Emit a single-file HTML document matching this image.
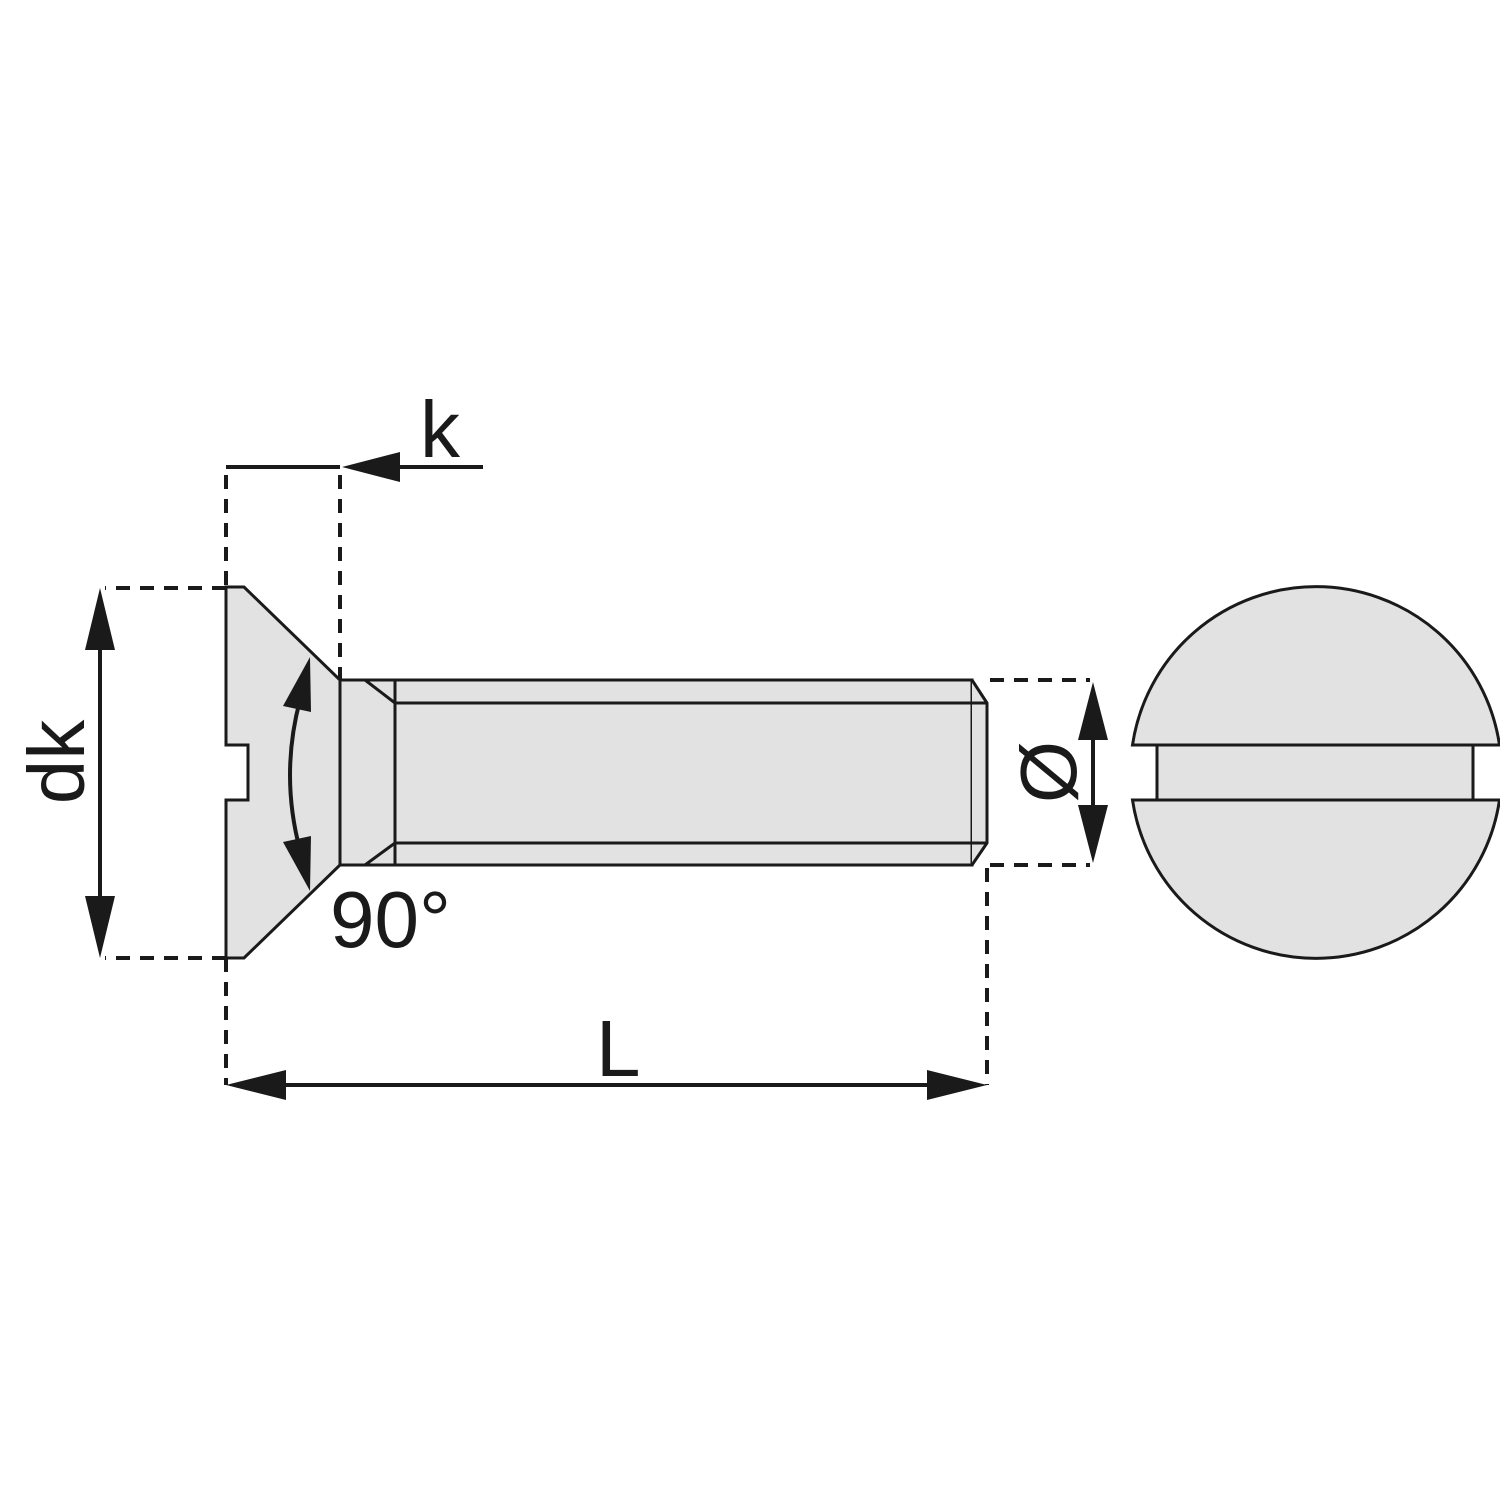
<!DOCTYPE html>
<html><head><style>body{margin:0;background:#fff}svg{display:block}</style></head><body>
<svg width="1500" height="1500" viewBox="0 0 1500 1500" xmlns="http://www.w3.org/2000/svg">
<g stroke="#1a1a1a" stroke-width="3" fill="#e2e2e2" stroke-linejoin="miter">
<path d="M226,587 L244,587 L340,680 L340,865 L244,958 L226,958 L226,800 L248,800 L248,745 L226,745 Z"/>
<rect x="340" y="680" width="632" height="185"/>
<path d="M972,680 L987,703 L987,843 L972,865" />
<line x1="395" y1="680" x2="395" y2="865"/>
<line x1="365" y1="680" x2="395" y2="703" fill="none"/>
<line x1="365" y1="865" x2="395" y2="843" fill="none"/>
<line x1="395" y1="703" x2="987" y2="703"/>
<line x1="395" y1="843" x2="987" y2="843"/>
<path d="M1132.5,745 A185.5,185.5 0 0 1 1499.5,745 Z"/>
<path d="M1132.5,800 A185.5,185.5 0 0 0 1499.5,800 Z"/>
<rect x="1157" y="745" width="316" height="55"/>
</g>
<g stroke="#1a1a1a" stroke-width="4" fill="none" stroke-dasharray="14,10">
<line x1="226" y1="475" x2="226" y2="587"/>
<line x1="226" y1="958" x2="226" y2="1085"/>
<line x1="340" y1="475" x2="340" y2="680"/>
<line x1="987" y1="868" x2="987" y2="1085"/>
<line x1="226" y1="588" x2="105" y2="588"/>
<line x1="226" y1="958" x2="105" y2="958"/>
<line x1="990" y1="680" x2="1090" y2="680"/>
<line x1="990" y1="865" x2="1090" y2="865"/>
</g>
<g stroke="#1a1a1a" stroke-width="4" fill="none">
<line x1="226" y1="467" x2="340" y2="467"/>
<line x1="380" y1="467" x2="483" y2="467"/>
<line x1="100" y1="620" x2="100" y2="930"/>
<line x1="1093" y1="720" x2="1093" y2="830"/>
<line x1="260" y1="1085" x2="950" y2="1085"/>
<path d="M300,700 Q280,775 300,850"/>
</g>
<g fill="#1a1a1a">
<polygon points="342,467 400,452 400,482"/>
<polygon points="100,588 85,650 115,650"/>
<polygon points="100,958 85,896 115,896"/>
<polygon points="1093,682 1078,740 1108,740"/>
<polygon points="1093,863 1078,805 1108,805"/>
<polygon points="226,1085 286,1070 286,1100"/>
<polygon points="987,1085 927,1070 927,1100"/>
<polygon points="310,657 283,706 311,712"/>
<polygon points="310,891 283,842 311,836"/>
</g>
<g font-family="Liberation Sans, sans-serif" fill="#1a1a1a" font-size="80">
<text x="420" y="457">k</text>
<text x="330" y="947">90°</text>
<text x="596" y="1076">L</text>
<text transform="translate(84,762) rotate(-90)" text-anchor="middle">dk</text>
<text transform="translate(1076,772) rotate(-90)" text-anchor="middle">Ø</text>
</g>
</svg>
</body></html>
